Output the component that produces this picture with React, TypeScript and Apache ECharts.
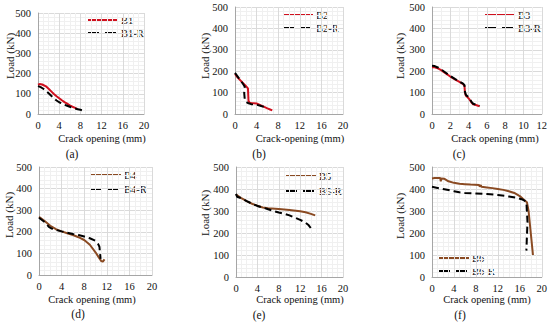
import React, { useEffect, useRef } from "react";
import * as echarts from "echarts";

const yTicks = [0, 100, 200, 300, 400, 500];
const panelLetters = ["(a)", "(b)", "(c)", "(d)", "(e)", "(f)"];
const xTitles = ["Crack opening (mm)", "Crack-opening (mm)", "Crack opening (mm)", "Crack opening (mm)", "Crack opening (mm)", "Crack opening (mm)"];
const xMaxes = [20, 20, 12, 20, 20, 20];
const xIntervals = [4, 4, 2, 4, 4, 4];

const b1 = [[0, 145], [0.3, 148], [0.8, 146], [1.5, 137], [2, 125], [2.5, 112], [3, 99], [3.5, 88], [4, 78], [4.5, 68], [5, 59], [5.5, 51], [6, 43], [6.5, 36], [7, 30], [7.4, 25]];
const b1r = [[0, 138], [0.5, 133], [1, 125], [1.5, 115], [2, 103], [2.5, 90], [3, 78], [3.5, 67], [4, 58], [4.5, 52], [5, 46], [5.5, 41], [6, 36], [6.5, 31], [7, 27], [7.5, 24], [8, 21], [8.4, 18]];
const b2 = [[0, 187], [0.5, 170], [1, 157], [1.5, 144], [2, 131], [2.4, 120], [2.5, 62], [2.7, 53], [3, 51], [3.5, 50], [4, 49], [4.5, 44], [5, 38], [5.5, 32], [6, 26], [6.5, 21], [6.9, 17]];
const b2r = [[0, 192], [0.5, 175], [1, 158], [1.5, 140], [1.8, 128], [1.7, 100], [1.8, 70], [2, 57], [2.5, 50], [3, 46], [4, 43], [5, 36], [5.8, 31]];
const b3 = [[0, 218], [0.3, 218], [0.7, 212], [1, 205], [1.5, 190], [2, 175], [2.5, 162], [3, 150], [3.4, 140], [3.55, 132], [3.6, 100], [3.7, 85], [3.9, 78], [4.1, 68], [4.3, 55], [4.5, 45], [4.8, 42], [5.2, 36]];
const b3r = [[0, 225], [0.3, 224], [0.7, 216], [1, 208], [1.5, 193], [2, 178], [2.5, 164], [3, 152], [3.4, 142], [3.55, 135], [3.6, 105], [3.7, 90], [3.9, 82], [4.1, 72], [4.3, 58], [4.5, 48], [4.8, 44], [5.2, 38]];
const b4 = [[0, 270], [1, 250], [2, 228], [3, 212], [4, 202], [5, 193], [6, 185], [7, 175], [8, 162], [9, 140], [10, 105], [10.5, 85], [11, 65], [11.3, 62], [11.6, 72]];
const b4r = [[0, 265], [1, 245], [1.8, 222], [2.5, 212], [4, 202], [5, 196], [6, 190], [7, 185], [8, 178], [9, 170], [10, 158], [10.5, 142], [10.7, 130], [10.8, 100], [10.9, 75]];
const b5 = [[0, 375], [0.3, 370], [1, 358], [2, 345], [3, 333], [4, 324], [5, 316], [6, 312], [8, 309], [10, 305], [12, 299], [13, 294], [14, 287], [14.8, 280]];
const b5r = [[0, 378], [0.2, 365], [1, 358], [2, 345], [3, 333], [4, 323], [5, 316], [6, 308], [7, 300], [8, 293], [9, 287], [10, 280], [11, 270], [12, 260], [13, 247], [13.6, 235], [14.2, 215]];
const b6 = [[0, 448], [0.5, 450], [1.5, 450], [1.6, 435], [1.7, 448], [2.2, 447], [3, 435], [4, 428], [5, 424], [6, 422], [7, 420], [8.6, 418], [8.7, 410], [8.9, 418], [9, 410], [10, 407], [11, 404], [12, 400], [13, 396], [14, 390], [15, 382], [16, 368], [16.8, 350], [17.3, 340], [17.6, 300], [18, 200], [18.4, 100]];
const b6r = [[0, 410], [1, 405], [2, 400], [3, 395], [4, 390], [5, 385], [6, 382], [8, 380], [10, 377], [12, 373], [14, 366], [15.5, 360], [16.5, 352], [17.2, 342], [17.4, 250], [17.2, 120]];

const solidData = [b1, b2, b3, b4, b5, b6];
const dashData = [b1r, b2r, b3r, b4r, b5r, b6r];
const solidNames = ["B1", "B2", "B3", "B4", "B5", "B6"];
const dashNames = ["B1-R", "B2-R", "B3-R", "B4-R", "B5-R", "B6-R"];

const RED = "#d0101e";
const BROWN = "#8a4a22";
const solidColors = [RED, RED, RED, BROWN, BROWN, BROWN];

const gridBoxes = [
  { left: 38, top: 13, width: 106, height: 101 },
  { left: 235, top: 7, width: 108, height: 107 },
  { left: 432, top: 7, width: 110, height: 107 },
  { left: 39, top: 167, width: 113, height: 108 },
  { left: 236, top: 167, width: 107, height: 110 },
  { left: 432, top: 167, width: 110, height: 110 },
];
// legend: line start x, first row y, second row y
const legendPos = [
  [88, 20, 33],
  [283, 15, 28],
  [485, 15, 28],
  [91, 175, 189],
  [286, 176, 191],
  [439, 258, 271],
];
const xTitlePos = [[102, 138], [300, 138], [495, 138], [92, 299], [300, 299], [487, 299]];
const yTitlePos = [[10, 56], [205, 56], [400, 56], [9, 215], [205, 213], [400, 216]];
const letterPos = [[72, 154], [259, 154], [459, 154], [78, 314], [259, 315], [460, 315]];

const FONT = "Liberation Serif";

export default function App() {
  const ref = useRef<HTMLDivElement>(null);
  useEffect(() => {
    if (!ref.current) return;
    const chart = echarts.init(ref.current, undefined, { renderer: "svg" });
    const grid = gridBoxes.map((g) => ({ ...g, containLabel: false }));
    const xAxis = gridBoxes.map((_, i) => ({
      type: "value",
      gridIndex: i,
      min: 0,
      max: xMaxes[i],
      interval: xIntervals[i],
      axisLine: { show: true, lineStyle: { color: "#a6a6a6", width: 1 } },
      axisTick: { show: false },
      axisLabel: { fontFamily: FONT, fontSize: 10.5, color: "#111", margin: 6 },
      splitLine: { show: true, lineStyle: { color: "#dadada", width: 1 } },
      minorTick: { show: false, splitNumber: xIntervals[i] === 4 ? 4 : 2 },
      minorSplitLine: { show: true, lineStyle: { color: "#f0f0f0", width: 1 } },
    }));
    const yAxis = gridBoxes.map((_, i) => ({
      type: "value",
      gridIndex: i,
      min: yTicks[0],
      max: yTicks[yTicks.length - 1],
      interval: 100,
      axisLine: { show: true, lineStyle: { color: "#a6a6a6", width: 1 } },
      axisTick: { show: false },
      axisLabel: { fontFamily: FONT, fontSize: 10.5, color: "#111", margin: 7 },
      splitLine: { show: true, lineStyle: { color: "#dadada", width: 1 } },
      minorTick: { show: false, splitNumber: 5 },
      minorSplitLine: { show: true, lineStyle: { color: "#f0f0f0", width: 1 } },
    }));
    const series: any[] = [];
    for (let i = 0; i < 6; i++) {
      series.push({
        type: "line",
        name: solidNames[i],
        xAxisIndex: i,
        yAxisIndex: i,
        data: solidData[i],
        showSymbol: false,
        symbol: "none",
        lineStyle: { color: solidColors[i], width: 2 },
        itemStyle: { color: solidColors[i] },
        z: 3,
      });
      series.push({
        type: "line",
        name: dashNames[i],
        xAxisIndex: i,
        yAxisIndex: i,
        data: dashData[i],
        showSymbol: false,
        symbol: "none",
        lineStyle: { color: "#000", width: 2, type: [7, 4] },
        itemStyle: { color: "#000" },
        z: 4,
      });
    }
    const txt = (text: string, x: number, y: number, size: number, align: string, rotation = 0) => ({
      type: "text",
      x,
      y,
      rotation,
      silent: true,
      style: {
        text,
        fontFamily: FONT,
        fontSize: size,
        fill: "#111",
        align,
        verticalAlign: "middle",
      },
    });
    const graphic: any[] = [];
    for (let i = 0; i < 6; i++) {
      graphic.push(txt(xTitles[i], xTitlePos[i][0], xTitlePos[i][1], 10.5, "center"));
      graphic.push(txt("Load (kN)", yTitlePos[i][0], yTitlePos[i][1], 11, "center", Math.PI / 2));
      graphic.push(txt(panelLetters[i], letterPos[i][0], letterPos[i][1], 11.5, "center"));
      const [lx, y1, y2] = legendPos[i];
      graphic.push({
        type: "line",
        silent: true,
        shape: { x1: lx, y1: y1, x2: lx + 30, y2: y1 },
        style: { stroke: solidColors[i], lineWidth: 2 },
      });
      graphic.push(txt(solidNames[i], lx + 33, y1, 10.5, "left"));
      graphic.push({
        type: "line",
        silent: true,
        shape: { x1: lx, y1: y2, x2: lx + 30, y2: y2 },
        style: { stroke: "#000", lineWidth: 2, lineDash: [11, 6] },
      });
      graphic.push(txt(dashNames[i], lx + 33, y2, 10.5, "left"));
    }
    chart.setOption({
      animation: false,
      backgroundColor: "#fff",
      grid,
      xAxis,
      yAxis,
      series,
      graphic: { elements: graphic },
    });
    return () => chart.dispose();
  }, []);
  return <div ref={ref} style={{ position: "absolute", left: 0, top: 0, width: 550, height: 323 }} />;
}
